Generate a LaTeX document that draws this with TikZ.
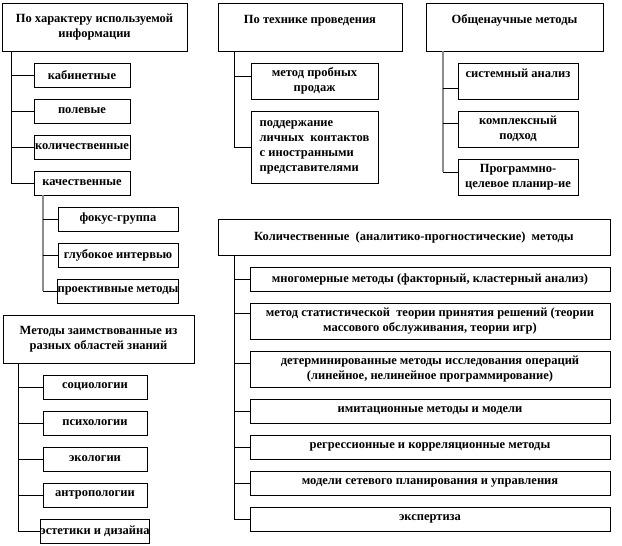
\documentclass[tikz,border=0pt]{standalone}
\usepackage{fontspec}
\setmainfont{Liberation Serif}
\usetikzlibrary{positioning}

\begin{document}
\begin{tikzpicture}[
    x=1pt, y=-1pt,
    node distance=12pt,
    font=\bfseries\fontsize{12.5}{15}\selectfont,
    box/.style={draw, line width=0.9pt, inner sep=0pt, outer sep=0pt, align=center, minimum height=24pt},
    hdr/.style={box, minimum height=48pt, anchor=north west},
    branch/.style={line width=0.9pt},
    trunk/.style={line width=2pt, black!45}
]
\useasboundingbox (0,0) rectangle (622,546);

% по характеру информации
\node[hdr, minimum width=185pt] (harakt) at (2,3) {По характеру используемой\\информации};

\node[box, minimum width=96pt, below=of harakt.south west, anchor=north west, xshift=32pt] (kabin) {кабинетные};
\node[box, minimum width=96pt, below=of kabin] (polev) {полевые};
\node[box, minimum width=96pt, below=of polev] (kolich) {количественные};
\node[box, minimum width=96pt, below=of kolich] (kachest) {качественные};

\node[box, minimum width=120pt, below=of kachest.south west, anchor=north west, xshift=24pt] (fokus) {фокус-группа};
\node[box, minimum width=120pt, below=of fokus] (interv) {глубокое интервью};
\node[box, minimum width=120pt, below=of interv] (proekt) {проективные методы};

\coordinate (t1) at ([xshift=9pt]harakt.south west);
\foreach \n in {kabin, polev, kolich, kachest}
    \draw[branch] (t1) |- (\n.west);

\coordinate (t1b) at ([xshift=9pt]kachest.south west);
\draw[trunk] (t1b) -- (t1b |- proekt.west);
\foreach \n in {fokus, interv, proekt}
    \draw[branch] (t1b |- \n.west) -- (\n.west);

% методы из разных областей
\node[hdr, minimum width=191pt] (zaimst) at (3,315) {Методы заимствованные из\\разных областей знаний};

\node[box, minimum width=104pt, below=of zaimst.south west, anchor=north west, xshift=40pt] (sociol) {социологии};
\node[box, minimum width=104pt, below=of sociol] (psihol) {психологии};
\node[box, minimum width=104pt, below=of psihol] (ekolog) {экологии};
\node[box, minimum width=104pt, below=of ekolog] (antrop) {антропологии};
\node[box, minimum width=104pt, below=of antrop] (estet) {эстетики и дизайна};

\coordinate (t4) at ([xshift=15pt]zaimst.south west);
\foreach \n in {sociol, psihol, ekolog, antrop, estet}
    \draw[branch] (t4) |- (\n.west);

% по технике проведения
\node[hdr, minimum width=184pt] (tehnika) at (218,3) {По технике проведения\\~};

\node[box, minimum width=127pt, minimum height=36pt, below=of tehnika.south west, anchor=north west, xshift=33pt] (prodazh) {метод пробных\\продаж};
\node[box, minimum width=127pt, minimum height=72pt, below=of prodazh, align=left] (kontakt) {поддержание\\личных \ контактов\\с иностранными\\представителями};

\coordinate (t2) at ([xshift=16pt]tehnika.south west);
\coordinate (prodazh-in) at ([yshift=5pt]prodazh.west);
\draw[branch] (t2) |- (prodazh-in);
\draw[branch] (t2) |- (kontakt.west);

% общенаучные
\node[hdr, minimum width=177pt] (obsh) at (426,3) {Общенаучные методы\\~};

\node[box, minimum width=120pt, minimum height=36pt, below=of obsh.south west, anchor=north west, xshift=32pt] (sistem) {системный анализ\\~};
\node[box, minimum width=120pt, minimum height=36pt, below=of sistem] (kompl) {комплексный\\подход};
\node[box, minimum width=120pt, minimum height=36pt, below=of kompl] (progr) {Программно-\\целевое планир-ие};

\coordinate (t3) at ([xshift=17pt]obsh.south west);
\coordinate (sistem-in) at ([yshift=-7pt]sistem.west);
\coordinate (kompl-in) at ([yshift=6pt]kompl.west);
\coordinate (progr-in) at ([yshift=5pt]progr.west);
\draw[trunk] (t3) -- (t3 |- progr-in);
\foreach \n in {sistem-in, kompl-in, progr-in}
    \draw[branch] (t3 |- \n) -- (\n);

% количественные методы
\node[hdr, minimum width=392pt, minimum height=36pt] (kolmet) at (218,219) {Количественные \ (аналитико-прогностические) \ методы};

\node[box, minimum width=360pt, below=of kolmet.south west, anchor=north west, xshift=32pt] (mnogom) {многомерные методы (факторный, кластерный анализ)};
\node[box, minimum width=360pt, minimum height=36pt, below=of mnogom] (statist) {метод статистической \ теории принятия решений (теории\\массового обслуживания, теории игр)};
\node[box, minimum width=360pt, minimum height=36pt, below=of statist] (determ) {детерминированные методы исследования операций\\(линейное, нелинейное программирование)};
\node[box, minimum width=360pt, below=of determ] (imitac) {имитационные методы и модели};
\node[box, minimum width=360pt, below=of imitac] (regres) {регрессионные и корреляционные методы};
\node[box, minimum width=360pt, below=of regres] (setev) {модели сетевого планирования и управления};
\node[box, minimum width=360pt, below=of setev] (ekspert) {экспертиза};

\coordinate (t5) at ([xshift=16pt]kolmet.south west);
\coordinate (statist-in) at ([yshift=8pt]statist.west);
\coordinate (determ-in) at ([yshift=6pt]determ.west);
\draw[branch] (t5) |- (mnogom.west);
\draw[branch] (t5) |- (statist-in);
\draw[branch] (t5) |- (determ-in);
\foreach \n in {imitac, regres, setev, ekspert}
    \draw[branch] (t5) |- (\n.west);

\end{tikzpicture}
\end{document}
